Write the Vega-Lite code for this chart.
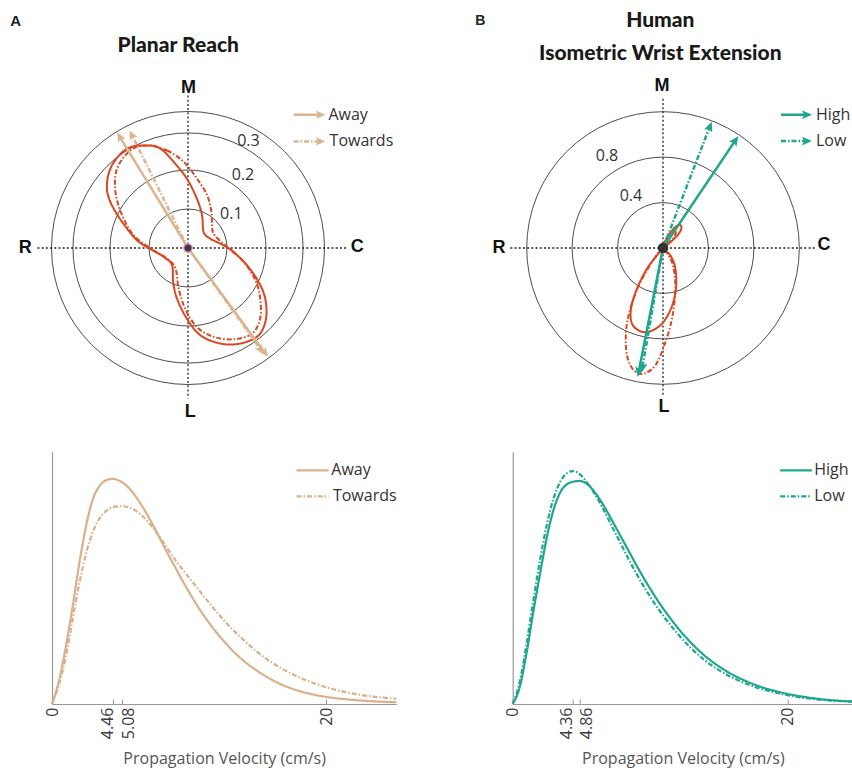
{
  "$schema": "https://vega.github.io/schema/vega-lite/v6.json",
  "background": "white",
  "padding": {"left": 10, "top": 10, "right": 0, "bottom": 4},
  "autosize": {"type": "pad"},
  "bounds": "flush",
  "columns": 2,
  "spacing": {"row": 67.7, "column": 115.7},
  "resolve": {"scale": {"size": "independent", "strokeDash": "independent"}},
  "config": {"view": {"stroke": null}, "axis": {"grid": false}},
  "concat": [
    {
      "width": 344.3,
      "height": 272,
      "encoding": {
        "x": {"field": "x", "type": "quantitative", "scale": {"domain": [-0.34872, 0.5341], "nice": false, "zero": false}, "axis": null},
        "y": {"field": "y", "type": "quantitative", "scale": {"domain": [-0.34872, 0.34872], "nice": false, "zero": false}, "axis": null}
      },
      "layer": [
        {
          "data": {"values": [{"x": 0, "y": 0, "r": 0.1}, {"x": 0, "y": 0, "r": 0.2}, {"x": 0, "y": 0, "r": 0.295}, {"x": 0, "y": 0, "r": 0.35}]},
          "mark": {"type": "point", "shape": "circle", "filled": false, "color": "#4d4d4d", "strokeWidth": 1, "opacity": 1},
          "encoding": {"size": {"field": "r", "type": "quantitative", "scale": {"type": "pow", "exponent": 2, "domain": [0, 0.35], "range": [0, 74529]}, "legend": null}}
        },
        {
          "data": {"values": [{"x": -0.386, "y": 0, "x2": 0.4095, "y2": 0}, {"x": 0, "y": 0.391, "x2": 0, "y2": -0.386}]},
          "mark": {"type": "rule", "color": "#222222", "strokeWidth": 1.3, "strokeDash": [2, 2.2]},
          "encoding": {"x2": {"field": "x2"}, "y2": {"field": "y2"}}
        },
        {
          "data": {"values": [
            {"s": "Away", "i": 1, "x": -0.105, "y": 0.263}, {"s": "Away", "i": 2, "x": -0.071, "y": 0.255}, {"s": "Away", "i": 3, "x": -0.037, "y": 0.221}, {"s": "Away", "i": 4, "x": -0.003, "y": 0.178}, {"s": "Away", "i": 5, "x": 0.023, "y": 0.126}, {"s": "Away", "i": 6, "x": 0.036, "y": 0.084}, {"s": "Away", "i": 7, "x": 0.040, "y": 0.041}, {"s": "Away", "i": 8, "x": 0.057, "y": 0.024}, {"s": "Away", "i": 9, "x": 0.091, "y": 0.007}, {"s": "Away", "i": 10, "x": 0.117, "y": -0.010}, {"s": "Away", "i": 11, "x": 0.151, "y": -0.044}, {"s": "Away", "i": 12, "x": 0.181, "y": -0.087}, {"s": "Away", "i": 13, "x": 0.198, "y": -0.130}, {"s": "Away", "i": 14, "x": 0.200, "y": -0.181}, {"s": "Away", "i": 15, "x": 0.181, "y": -0.224}, {"s": "Away", "i": 16, "x": 0.134, "y": -0.245}, {"s": "Away", "i": 17, "x": 0.083, "y": -0.245}, {"s": "Away", "i": 18, "x": 0.032, "y": -0.224}, {"s": "Away", "i": 19, "x": -0.003, "y": -0.181}, {"s": "Away", "i": 20, "x": -0.028, "y": -0.130}, {"s": "Away", "i": 21, "x": -0.038, "y": -0.087}, {"s": "Away", "i": 22, "x": -0.041, "y": -0.044}, {"s": "Away", "i": 23, "x": -0.062, "y": -0.023}, {"s": "Away", "i": 24, "x": -0.097, "y": -0.002}, {"s": "Away", "i": 25, "x": -0.131, "y": 0.020}, {"s": "Away", "i": 26, "x": -0.169, "y": 0.067}, {"s": "Away", "i": 27, "x": -0.199, "y": 0.118}, {"s": "Away", "i": 28, "x": -0.208, "y": 0.161}, {"s": "Away", "i": 29, "x": -0.195, "y": 0.212}, {"s": "Away", "i": 30, "x": -0.156, "y": 0.255},
            {"s": "Towards", "i": 1, "x": -0.105, "y": 0.263}, {"s": "Towards", "i": 2, "x": -0.054, "y": 0.250}, {"s": "Towards", "i": 3, "x": -0.011, "y": 0.221}, {"s": "Towards", "i": 4, "x": 0.023, "y": 0.178}, {"s": "Towards", "i": 5, "x": 0.049, "y": 0.135}, {"s": "Towards", "i": 6, "x": 0.060, "y": 0.092}, {"s": "Towards", "i": 7, "x": 0.062, "y": 0.050}, {"s": "Towards", "i": 8, "x": 0.070, "y": 0.031}, {"s": "Towards", "i": 9, "x": 0.100, "y": 0.003}, {"s": "Towards", "i": 10, "x": 0.143, "y": -0.036}, {"s": "Towards", "i": 11, "x": 0.173, "y": -0.083}, {"s": "Towards", "i": 12, "x": 0.185, "y": -0.130}, {"s": "Towards", "i": 13, "x": 0.185, "y": -0.181}, {"s": "Towards", "i": 14, "x": 0.164, "y": -0.220}, {"s": "Towards", "i": 15, "x": 0.117, "y": -0.234}, {"s": "Towards", "i": 16, "x": 0.066, "y": -0.228}, {"s": "Towards", "i": 17, "x": 0.023, "y": -0.203}, {"s": "Towards", "i": 18, "x": -0.007, "y": -0.156}, {"s": "Towards", "i": 19, "x": -0.024, "y": -0.104}, {"s": "Towards", "i": 20, "x": -0.032, "y": -0.053}, {"s": "Towards", "i": 21, "x": -0.054, "y": -0.027}, {"s": "Towards", "i": 22, "x": -0.097, "y": 0.000}, {"s": "Towards", "i": 23, "x": -0.139, "y": 0.032}, {"s": "Towards", "i": 24, "x": -0.169, "y": 0.084}, {"s": "Towards", "i": 25, "x": -0.186, "y": 0.144}, {"s": "Towards", "i": 26, "x": -0.182, "y": 0.203}, {"s": "Towards", "i": 27, "x": -0.148, "y": 0.250}
          ]},
          "mark": {"type": "line", "interpolate": "cardinal-closed", "color": "#D9461F", "strokeWidth": 2},
          "encoding": {
            "order": {"field": "i", "type": "quantitative"},
            "strokeDash": {"field": "s", "type": "nominal", "scale": {"domain": ["Away", "Towards"], "range": [[1, 0], [5, 2, 1.5, 2]]}, "legend": null}
          }
        },
        {
          "data": {"values": [
            {"s": "Away", "x": 0, "y": 0, "x2": -0.175, "y2": 0.285},
            {"s": "Away", "x": 0, "y": 0, "x2": 0.197, "y2": -0.269},
            {"s": "Towards", "x": 0, "y": 0, "x2": -0.144, "y2": 0.290},
            {"s": "Towards", "x": 0, "y": 0, "x2": 0.186, "y2": -0.260},
            {"s": "Away", "x": 0.2708, "y": 0.3418, "x2": 0.34, "y2": 0.3418},
            {"s": "Towards", "x": 0.2708, "y": 0.2733, "x2": 0.34, "y2": 0.2733}
          ]},
          "mark": {"type": "rule", "color": "#DCB48D", "strokeWidth": 2.5},
          "encoding": {
            "x2": {"field": "x2"}, "y2": {"field": "y2"},
            "strokeDash": {"field": "s", "type": "nominal", "scale": {"domain": ["Away", "Towards"], "range": [[1, 0], [5, 2, 1.5, 2]]}, "legend": null}
          }
        },
        {
          "data": {"values": [
            {"x": -0.182, "y": 0.296, "ang": -31.6},
            {"x": 0.205, "y": -0.279, "ang": 143.7},
            {"x": -0.150, "y": 0.3015, "ang": -26.45},
            {"x": 0.194, "y": -0.271, "ang": 144.4},
            {"x": 0.352, "y": 0.3418, "ang": 90},
            {"x": 0.352, "y": 0.2733, "ang": 90}
          ]},
          "mark": {"type": "point", "shape": "M0,0L-0.8,1.8L0,1.4L0.8,1.8Z", "filled": true, "color": "#DCB48D", "size": 110, "opacity": 1, "strokeWidth": 0},
          "encoding": {"angle": {"field": "ang", "type": "quantitative", "scale": null}}
        },
        {
          "data": {"values": [{"x": 0, "y": 0}]},
          "mark": {"type": "point", "shape": "circle", "filled": true, "color": "#3d3d3d", "stroke": "#e38ad6", "strokeWidth": 1.2, "size": 70, "opacity": 1}
        },
        {
          "data": {"values": [{"x": 0.111, "y": 0.088, "t": "0.1"}, {"x": 0.141, "y": 0.188, "t": "0.2"}, {"x": 0.155, "y": 0.275, "t": "0.3"}]},
          "mark": {"type": "text", "font": "Open Sans", "fontSize": 16, "color": "#333333", "align": "center", "baseline": "middle"},
          "encoding": {"text": {"field": "t"}}
        },
        {
          "data": {"values": [{"x": 0.001, "y": 0.41, "t": "M"}, {"x": 0.006, "y": -0.42, "t": "L"}, {"x": -0.417, "y": 0.001, "t": "R"}, {"x": 0.434, "y": 0.003, "t": "C"}]},
          "mark": {"type": "text", "font": "Liberation Sans", "fontWeight": "bold", "fontSize": 18, "color": "#111111", "align": "center", "baseline": "middle"},
          "encoding": {"text": {"field": "t"}}
        },
        {
          "data": {"values": [{"x": 0.36, "y": 0.3418, "t": "Away"}, {"x": 0.363, "y": 0.2733, "t": "Towards"}]},
          "mark": {"type": "text", "font": "Open Sans", "fontSize": 16, "color": "#333333", "align": "left", "baseline": "middle"},
          "encoding": {"text": {"field": "t"}}
        },
        {
          "data": {"values": [{"x": -0.0249, "y": 0.5033, "t": "Planar Reach"}]},
          "mark": {"type": "text", "font": "Lato", "fontWeight": 900, "fontSize": 21, "color": "#1a1a1a", "align": "center", "baseline": "alphabetic"},
          "encoding": {"text": {"field": "t"}}
        },
        {
          "data": {"values": [{"x": -0.4556, "y": 0.57, "t": "A"}]},
          "mark": {"type": "text", "font": "Liberation Sans", "fontWeight": "bold", "fontSize": 15, "color": "#222222", "align": "left", "baseline": "alphabetic"},
          "encoding": {"text": {"field": "t"}}
        }
      ]
    },
    {
      "width": 340.3,
      "height": 272,
      "encoding": {
        "x": {"field": "x", "type": "quantitative", "scale": {"domain": [-1.3231, 1.6725], "nice": false, "zero": false}, "axis": null},
        "y": {"field": "y", "type": "quantitative", "scale": {"domain": [-1.19718, 1.19718], "nice": false, "zero": false}, "axis": null}
      },
      "layer": [
        {
          "data": {"values": [{"x": 0, "y": 0, "r": 0.4}, {"x": 0, "y": 0, "r": 0.8}, {"x": 0, "y": 0, "r": 1.2}]},
          "mark": {"type": "point", "shape": "circle", "filled": false, "color": "#4d4d4d", "strokeWidth": 1, "opacity": 1},
          "encoding": {"size": {"field": "r", "type": "quantitative", "scale": {"type": "pow", "exponent": 2, "domain": [0, 1.2], "range": [0, 74310]}, "legend": null}}
        },
        {
          "data": {"values": [{"x": -1.344, "y": 0, "x2": 1.341, "y2": 0}, {"x": 0, "y": 1.314, "x2": 0, "y2": -1.312}]},
          "mark": {"type": "rule", "color": "#222222", "strokeWidth": 1.3, "strokeDash": [2, 2.2]},
          "encoding": {"x2": {"field": "x2"}, "y2": {"field": "y2"}}
        },
        {
          "data": {"values": [
            {"s": "High", "i": 0, "x": 0, "y": 0}, {"s": "High", "i": 1, "x": -0.053, "y": -0.065}, {"s": "High", "i": 2, "x": -0.141, "y": -0.182}, {"s": "High", "i": 3, "x": -0.229, "y": -0.358}, {"s": "High", "i": 4, "x": -0.282, "y": -0.534}, {"s": "High", "i": 5, "x": -0.273, "y": -0.666}, {"s": "High", "i": 6, "x": -0.199, "y": -0.733}, {"s": "High", "i": 7, "x": -0.111, "y": -0.733}, {"s": "High", "i": 8, "x": -0.009, "y": -0.666}, {"s": "High", "i": 9, "x": 0.070, "y": -0.534}, {"s": "High", "i": 10, "x": 0.114, "y": -0.358}, {"s": "High", "i": 11, "x": 0.109, "y": -0.182}, {"s": "High", "i": 12, "x": 0.065, "y": -0.065}, {"s": "High", "i": 13, "x": 0, "y": 0}, {"s": "High", "i": 14, "x": 0.035, "y": 0.082}, {"s": "High", "i": 15, "x": 0.094, "y": 0.170}, {"s": "High", "i": 16, "x": 0.147, "y": 0.205}, {"s": "High", "i": 17, "x": 0.161, "y": 0.170}, {"s": "High", "i": 18, "x": 0.123, "y": 0.106}, {"s": "High", "i": 19, "x": 0.050, "y": 0.038},
            {"s": "Low", "i": 0, "x": 0, "y": 0}, {"s": "Low", "i": 1, "x": -0.067, "y": -0.079}, {"s": "Low", "i": 2, "x": -0.199, "y": -0.299}, {"s": "Low", "i": 3, "x": -0.287, "y": -0.534}, {"s": "Low", "i": 4, "x": -0.326, "y": -0.739}, {"s": "Low", "i": 5, "x": -0.317, "y": -0.944}, {"s": "Low", "i": 6, "x": -0.258, "y": -1.076}, {"s": "Low", "i": 7, "x": -0.170, "y": -1.106}, {"s": "Low", "i": 8, "x": -0.067, "y": -1.032}, {"s": "Low", "i": 9, "x": 0.012, "y": -0.856}, {"s": "Low", "i": 10, "x": 0.079, "y": -0.622}, {"s": "Low", "i": 11, "x": 0.109, "y": -0.358}, {"s": "Low", "i": 12, "x": 0.088, "y": -0.152}, {"s": "Low", "i": 13, "x": 0.035, "y": -0.041}, {"s": "Low", "i": 14, "x": 0, "y": 0}, {"s": "Low", "i": 15, "x": 0.02, "y": 0.07}, {"s": "Low", "i": 16, "x": 0.07, "y": 0.14}, {"s": "Low", "i": 17, "x": 0.11, "y": 0.15}, {"s": "Low", "i": 18, "x": 0.10, "y": 0.10}, {"s": "Low", "i": 19, "x": 0.04, "y": 0.03}
          ]},
          "mark": {"type": "line", "interpolate": "cardinal-closed", "color": "#D9461F", "strokeWidth": 2},
          "encoding": {
            "order": {"field": "i", "type": "quantitative"},
            "strokeDash": {"field": "s", "type": "nominal", "scale": {"domain": ["High", "Low"], "range": [[1, 0], [5, 2, 1.5, 2]]}, "legend": null}
          }
        },
        {
          "data": {"values": [
            {"s": "High", "x": 0, "y": 0, "x2": 0.638, "y2": 0.949},
            {"s": "High", "x": 0, "y": 0, "x2": -0.2145, "y2": -1.093},
            {"s": "Low", "x": 0, "y": 0, "x2": 0.413, "y2": 1.071},
            {"s": "Low", "x": 0, "y": 0, "x2": -0.1825, "y2": -1.057},
            {"s": "High", "x": 1.0387, "y": 1.1734, "x2": 1.27, "y2": 1.1734},
            {"s": "Low", "x": 1.0387, "y": 0.942, "x2": 1.27, "y2": 0.942}
          ]},
          "mark": {"type": "rule", "color": "#1FA68D", "strokeWidth": 2.5},
          "encoding": {
            "x2": {"field": "x2"}, "y2": {"field": "y2"},
            "strokeDash": {"field": "s", "type": "nominal", "scale": {"domain": ["High", "Low"], "range": [[1, 0], [5, 2, 1.5, 2]]}, "legend": null}
          }
        },
        {
          "data": {"values": [
            {"x": 0.663, "y": 0.986, "ang": 33.9},
            {"x": -0.223, "y": -1.136, "ang": -168.9},
            {"x": 0.429, "y": 1.112, "ang": 21.1},
            {"x": -0.19, "y": -1.10, "ang": -170.2},
            {"x": 1.3116, "y": 1.1734, "ang": 90},
            {"x": 1.3116, "y": 0.942, "ang": 90}
          ]},
          "mark": {"type": "point", "shape": "M0,0L-0.8,1.8L0,1.4L0.8,1.8Z", "filled": true, "color": "#1FA68D", "size": 125, "opacity": 1, "strokeWidth": 0},
          "encoding": {"angle": {"field": "ang", "type": "quantitative", "scale": null}}
        },
        {
          "data": {"values": [{"x": 0, "y": 0}]},
          "mark": {"type": "point", "shape": "circle", "filled": true, "color": "#333333", "size": 110, "opacity": 1}
        },
        {
          "data": {"values": [{"x": -0.493, "y": 0.806, "t": "0.8"}, {"x": -0.282, "y": 0.458, "t": "0.4"}]},
          "mark": {"type": "text", "font": "Open Sans", "fontSize": 16, "color": "#333333", "align": "center", "baseline": "middle"},
          "encoding": {"text": {"field": "t"}}
        },
        {
          "data": {"values": [{"x": -0.009, "y": 1.428, "t": "M"}, {"x": 0.009, "y": -1.397, "t": "L"}, {"x": -1.444, "y": 0, "t": "R"}, {"x": 1.417, "y": 0.029, "t": "C"}]},
          "mark": {"type": "text", "font": "Liberation Sans", "fontWeight": "bold", "fontSize": 18, "color": "#111111", "align": "center", "baseline": "middle"},
          "encoding": {"text": {"field": "t"}}
        },
        {
          "data": {"values": [{"x": 1.3468, "y": 1.1734, "t": "High"}, {"x": 1.3468, "y": 0.942, "t": "Low"}]},
          "mark": {"type": "text", "font": "Open Sans", "fontSize": 16, "color": "#333333", "align": "left", "baseline": "middle"},
          "encoding": {"text": {"field": "t"}}
        },
        {
          "data": {"values": [{"x": -0.0238, "y": 1.9454, "t": "Human"}, {"x": -0.0238, "y": 1.6514, "t": "Isometric Wrist Extension"}]},
          "mark": {"type": "text", "font": "Lato", "fontWeight": 900, "fontSize": 21, "color": "#1a1a1a", "align": "center", "baseline": "alphabetic"},
          "encoding": {"text": {"field": "t"}}
        },
        {
          "data": {"values": [{"x": -1.652, "y": 1.9595, "t": "B"}]},
          "mark": {"type": "text", "font": "Liberation Sans", "fontWeight": "bold", "fontSize": 14, "color": "#222222", "align": "left", "baseline": "alphabetic"},
          "encoding": {"text": {"field": "t"}}
        }
      ]
    },
    {
      "width": 344.3,
      "height": 252.3,
      "encoding": {
        "x": {"field": "v", "type": "quantitative", "scale": {"domain": [0, 25.1], "nice": false, "zero": false},
          "axis": {"values": [0, 4.46, 5.08, 20], "format": ".3~g", "labelAngle": 270, "labelOverlap": false, "labelBound": false, "labelFont": "Open Sans", "labelFontSize": 16, "labelColor": "#3a3a3a", "labelPadding": 8,
            "labelOffset": {"condition": [{"test": "datum.value > 4 && datum.value < 4.6", "value": -6}, {"test": "datum.value > 4.7 && datum.value < 5.5", "value": 7}], "value": 0},
            "tickSize": -5, "tickColor": "#999999", "tickWidth": 1, "domainColor": "#999999", "domainWidth": 1.2, "title": "Propagation Velocity (cm/s)", "titleFont": "Open Sans", "titleFontSize": 16, "titleFontWeight": "normal", "titleColor": "#555555", "titlePadding": 12, "grid": false}},
        "y": {"field": "h", "type": "quantitative", "scale": {"domain": [0, 1], "nice": false, "zero": false},
          "axis": {"ticks": false, "labels": false, "title": null, "domainColor": "#999999", "domainWidth": 1.2, "grid": false}}
      },
      "layer": [
        {
          "data": {"values": [
            {"s": "Away", "v": 0, "h": 0}, {"s": "Away", "v": 0.5, "h": 0.09}, {"s": "Away", "v": 1, "h": 0.225}, {"s": "Away", "v": 1.5, "h": 0.385}, {"s": "Away", "v": 2, "h": 0.56}, {"s": "Away", "v": 2.5, "h": 0.71}, {"s": "Away", "v": 3, "h": 0.815}, {"s": "Away", "v": 3.5, "h": 0.866}, {"s": "Away", "v": 4, "h": 0.888}, {"s": "Away", "v": 4.46, "h": 0.892}, {"s": "Away", "v": 5, "h": 0.882}, {"s": "Away", "v": 5.5, "h": 0.862}, {"s": "Away", "v": 6, "h": 0.83}, {"s": "Away", "v": 6.5, "h": 0.79}, {"s": "Away", "v": 7, "h": 0.745}, {"s": "Away", "v": 7.5, "h": 0.695}, {"s": "Away", "v": 8, "h": 0.642}, {"s": "Away", "v": 8.5, "h": 0.59}, {"s": "Away", "v": 9, "h": 0.54}, {"s": "Away", "v": 9.5, "h": 0.49}, {"s": "Away", "v": 10, "h": 0.443}, {"s": "Away", "v": 10.5, "h": 0.398}, {"s": "Away", "v": 11, "h": 0.356}, {"s": "Away", "v": 11.5, "h": 0.318}, {"s": "Away", "v": 12, "h": 0.283}, {"s": "Away", "v": 13, "h": 0.221}, {"s": "Away", "v": 14, "h": 0.17}, {"s": "Away", "v": 15, "h": 0.13}, {"s": "Away", "v": 16, "h": 0.097}, {"s": "Away", "v": 17, "h": 0.071}, {"s": "Away", "v": 18, "h": 0.052}, {"s": "Away", "v": 19, "h": 0.038}, {"s": "Away", "v": 20, "h": 0.028}, {"s": "Away", "v": 21, "h": 0.021}, {"s": "Away", "v": 22, "h": 0.016}, {"s": "Away", "v": 23, "h": 0.012}, {"s": "Away", "v": 24, "h": 0.009}, {"s": "Away", "v": 25.1, "h": 0.007},
            {"s": "Towards", "v": 0, "h": 0}, {"s": "Towards", "v": 0.5, "h": 0.075}, {"s": "Towards", "v": 1, "h": 0.185}, {"s": "Towards", "v": 1.5, "h": 0.335}, {"s": "Towards", "v": 2, "h": 0.48}, {"s": "Towards", "v": 2.5, "h": 0.6}, {"s": "Towards", "v": 3, "h": 0.685}, {"s": "Towards", "v": 3.5, "h": 0.738}, {"s": "Towards", "v": 4, "h": 0.767}, {"s": "Towards", "v": 4.5, "h": 0.781}, {"s": "Towards", "v": 5.08, "h": 0.784}, {"s": "Towards", "v": 5.5, "h": 0.781}, {"s": "Towards", "v": 6, "h": 0.77}, {"s": "Towards", "v": 6.5, "h": 0.75}, {"s": "Towards", "v": 7, "h": 0.722}, {"s": "Towards", "v": 7.5, "h": 0.688}, {"s": "Towards", "v": 8, "h": 0.65}, {"s": "Towards", "v": 8.5, "h": 0.61}, {"s": "Towards", "v": 9, "h": 0.57}, {"s": "Towards", "v": 9.5, "h": 0.535}, {"s": "Towards", "v": 10, "h": 0.5}, {"s": "Towards", "v": 10.5, "h": 0.466}, {"s": "Towards", "v": 11, "h": 0.432}, {"s": "Towards", "v": 11.5, "h": 0.398}, {"s": "Towards", "v": 12, "h": 0.365}, {"s": "Towards", "v": 12.5, "h": 0.334}, {"s": "Towards", "v": 13, "h": 0.305}, {"s": "Towards", "v": 13.5, "h": 0.278}, {"s": "Towards", "v": 14, "h": 0.252}, {"s": "Towards", "v": 15, "h": 0.205}, {"s": "Towards", "v": 16, "h": 0.165}, {"s": "Towards", "v": 17, "h": 0.133}, {"s": "Towards", "v": 18, "h": 0.106}, {"s": "Towards", "v": 19, "h": 0.084}, {"s": "Towards", "v": 20, "h": 0.066}, {"s": "Towards", "v": 21, "h": 0.052}, {"s": "Towards", "v": 22, "h": 0.041}, {"s": "Towards", "v": 23, "h": 0.032}, {"s": "Towards", "v": 24, "h": 0.026}, {"s": "Towards", "v": 25.1, "h": 0.021}
          ]},
          "mark": {"type": "line", "interpolate": "monotone", "color": "#DAB08A", "strokeWidth": 2.2},
          "encoding": {"strokeDash": {"field": "s", "type": "nominal", "scale": {"domain": ["Away", "Towards"], "range": [[1, 0], [5, 2, 1.5, 2]]}, "legend": null}}
        },
        {
          "data": {"values": [{"s": "Away", "v": 17.83, "v2": 20.16, "h": 0.926}, {"s": "Towards", "v": 17.83, "v2": 20.16, "h": 0.823}]},
          "mark": {"type": "rule", "color": "#DAB08A", "strokeWidth": 2.2},
          "encoding": {
            "x2": {"field": "v2"},
            "strokeDash": {"field": "s", "type": "nominal", "scale": {"domain": ["Away", "Towards"], "range": [[1, 0], [5, 2, 1.5, 2]]}, "legend": null}
          }
        },
        {
          "data": {"values": [{"v": 20.36, "h": 0.926, "t": "Away"}, {"v": 20.48, "h": 0.823, "t": "Towards"}]},
          "mark": {"type": "text", "font": "Open Sans", "fontSize": 16, "color": "#333333", "align": "left", "baseline": "middle"},
          "encoding": {"text": {"field": "t"}}
        }
      ]
    },
    {
      "width": 340.3,
      "height": 252.3,
      "encoding": {
        "x": {"field": "v", "type": "quantitative", "scale": {"domain": [0, 24.75], "nice": false, "zero": false},
          "axis": {"values": [0, 4.36, 4.86, 20], "format": ".3~g", "labelAngle": 270, "labelOverlap": false, "labelBound": false, "labelFont": "Open Sans", "labelFontSize": 16, "labelColor": "#3a3a3a", "labelPadding": 8,
            "labelOffset": {"condition": [{"test": "datum.value > 4 && datum.value < 4.6", "value": -6}, {"test": "datum.value > 4.7 && datum.value < 5.5", "value": 7}], "value": 0},
            "tickSize": -5, "tickColor": "#999999", "tickWidth": 1, "domainColor": "#999999", "domainWidth": 1.2, "title": "Propagation Velocity (cm/s)", "titleFont": "Open Sans", "titleFontSize": 16, "titleFontWeight": "normal", "titleColor": "#555555", "titlePadding": 12, "grid": false}},
        "y": {"field": "h", "type": "quantitative", "scale": {"domain": [0, 1], "nice": false, "zero": false},
          "axis": {"ticks": false, "labels": false, "title": null, "domainColor": "#999999", "domainWidth": 1.2, "grid": false}}
      },
      "layer": [
        {
          "data": {"values": [
            {"s": "High", "v": 0, "h": 0}, {"s": "High", "v": 0.5, "h": 0.065}, {"s": "High", "v": 1, "h": 0.2}, {"s": "High", "v": 1.5, "h": 0.365}, {"s": "High", "v": 2, "h": 0.52}, {"s": "High", "v": 2.5, "h": 0.665}, {"s": "High", "v": 3, "h": 0.775}, {"s": "High", "v": 3.5, "h": 0.843}, {"s": "High", "v": 4, "h": 0.873}, {"s": "High", "v": 4.4, "h": 0.881}, {"s": "High", "v": 4.86, "h": 0.884}, {"s": "High", "v": 5.5, "h": 0.868}, {"s": "High", "v": 6, "h": 0.837}, {"s": "High", "v": 6.5, "h": 0.797}, {"s": "High", "v": 7, "h": 0.75}, {"s": "High", "v": 7.5, "h": 0.7}, {"s": "High", "v": 8, "h": 0.65}, {"s": "High", "v": 8.5, "h": 0.6}, {"s": "High", "v": 9, "h": 0.55}, {"s": "High", "v": 9.5, "h": 0.502}, {"s": "High", "v": 10, "h": 0.457}, {"s": "High", "v": 10.5, "h": 0.414}, {"s": "High", "v": 11, "h": 0.374}, {"s": "High", "v": 11.5, "h": 0.337}, {"s": "High", "v": 12, "h": 0.302}, {"s": "High", "v": 13, "h": 0.241}, {"s": "High", "v": 14, "h": 0.19}, {"s": "High", "v": 15, "h": 0.149}, {"s": "High", "v": 16, "h": 0.116}, {"s": "High", "v": 17, "h": 0.09}, {"s": "High", "v": 18, "h": 0.069}, {"s": "High", "v": 19, "h": 0.053}, {"s": "High", "v": 20, "h": 0.04}, {"s": "High", "v": 21, "h": 0.03}, {"s": "High", "v": 22, "h": 0.022}, {"s": "High", "v": 23, "h": 0.016}, {"s": "High", "v": 24, "h": 0.012}, {"s": "High", "v": 24.75, "h": 0.01},
            {"s": "Low", "v": 0, "h": 0}, {"s": "Low", "v": 0.5, "h": 0.085}, {"s": "Low", "v": 1, "h": 0.235}, {"s": "Low", "v": 1.5, "h": 0.41}, {"s": "Low", "v": 2, "h": 0.575}, {"s": "Low", "v": 2.5, "h": 0.715}, {"s": "Low", "v": 3, "h": 0.82}, {"s": "Low", "v": 3.5, "h": 0.885}, {"s": "Low", "v": 4, "h": 0.917}, {"s": "Low", "v": 4.36, "h": 0.923}, {"s": "Low", "v": 5, "h": 0.905}, {"s": "Low", "v": 5.5, "h": 0.87}, {"s": "Low", "v": 6, "h": 0.83}, {"s": "Low", "v": 6.5, "h": 0.781}, {"s": "Low", "v": 7, "h": 0.728}, {"s": "Low", "v": 7.5, "h": 0.674}, {"s": "Low", "v": 8, "h": 0.62}, {"s": "Low", "v": 8.5, "h": 0.567}, {"s": "Low", "v": 9, "h": 0.516}, {"s": "Low", "v": 9.5, "h": 0.469}, {"s": "Low", "v": 10, "h": 0.425}, {"s": "Low", "v": 10.5, "h": 0.384}, {"s": "Low", "v": 11, "h": 0.346}, {"s": "Low", "v": 11.5, "h": 0.311}, {"s": "Low", "v": 12, "h": 0.278}, {"s": "Low", "v": 13, "h": 0.22}, {"s": "Low", "v": 14, "h": 0.172}, {"s": "Low", "v": 15, "h": 0.134}, {"s": "Low", "v": 16, "h": 0.104}, {"s": "Low", "v": 17, "h": 0.08}, {"s": "Low", "v": 18, "h": 0.061}, {"s": "Low", "v": 19, "h": 0.047}, {"s": "Low", "v": 20, "h": 0.035}, {"s": "Low", "v": 21, "h": 0.026}, {"s": "Low", "v": 22, "h": 0.019}, {"s": "Low", "v": 23, "h": 0.014}, {"s": "Low", "v": 24, "h": 0.011}, {"s": "Low", "v": 24.75, "h": 0.009}
          ]},
          "mark": {"type": "line", "interpolate": "monotone", "color": "#1FA68D", "strokeWidth": 2.2},
          "encoding": {"strokeDash": {"field": "s", "type": "nominal", "scale": {"domain": ["High", "Low"], "range": [[1, 0], [5, 2, 1.5, 2]]}, "legend": null}}
        },
        {
          "data": {"values": [{"s": "High", "v": 19.46, "v2": 21.76, "h": 0.926}, {"s": "Low", "v": 19.46, "v2": 21.76, "h": 0.823}]},
          "mark": {"type": "rule", "color": "#1FA68D", "strokeWidth": 2.2},
          "encoding": {
            "x2": {"field": "v2"},
            "strokeDash": {"field": "s", "type": "nominal", "scale": {"domain": ["High", "Low"], "range": [[1, 0], [5, 2, 1.5, 2]]}, "legend": null}
          }
        },
        {
          "data": {"values": [{"v": 21.93, "h": 0.926, "t": "High"}, {"v": 21.93, "h": 0.823, "t": "Low"}]},
          "mark": {"type": "text", "font": "Open Sans", "fontSize": 16, "color": "#333333", "align": "left", "baseline": "middle"},
          "encoding": {"text": {"field": "t"}}
        }
      ]
    }
  ]
}
